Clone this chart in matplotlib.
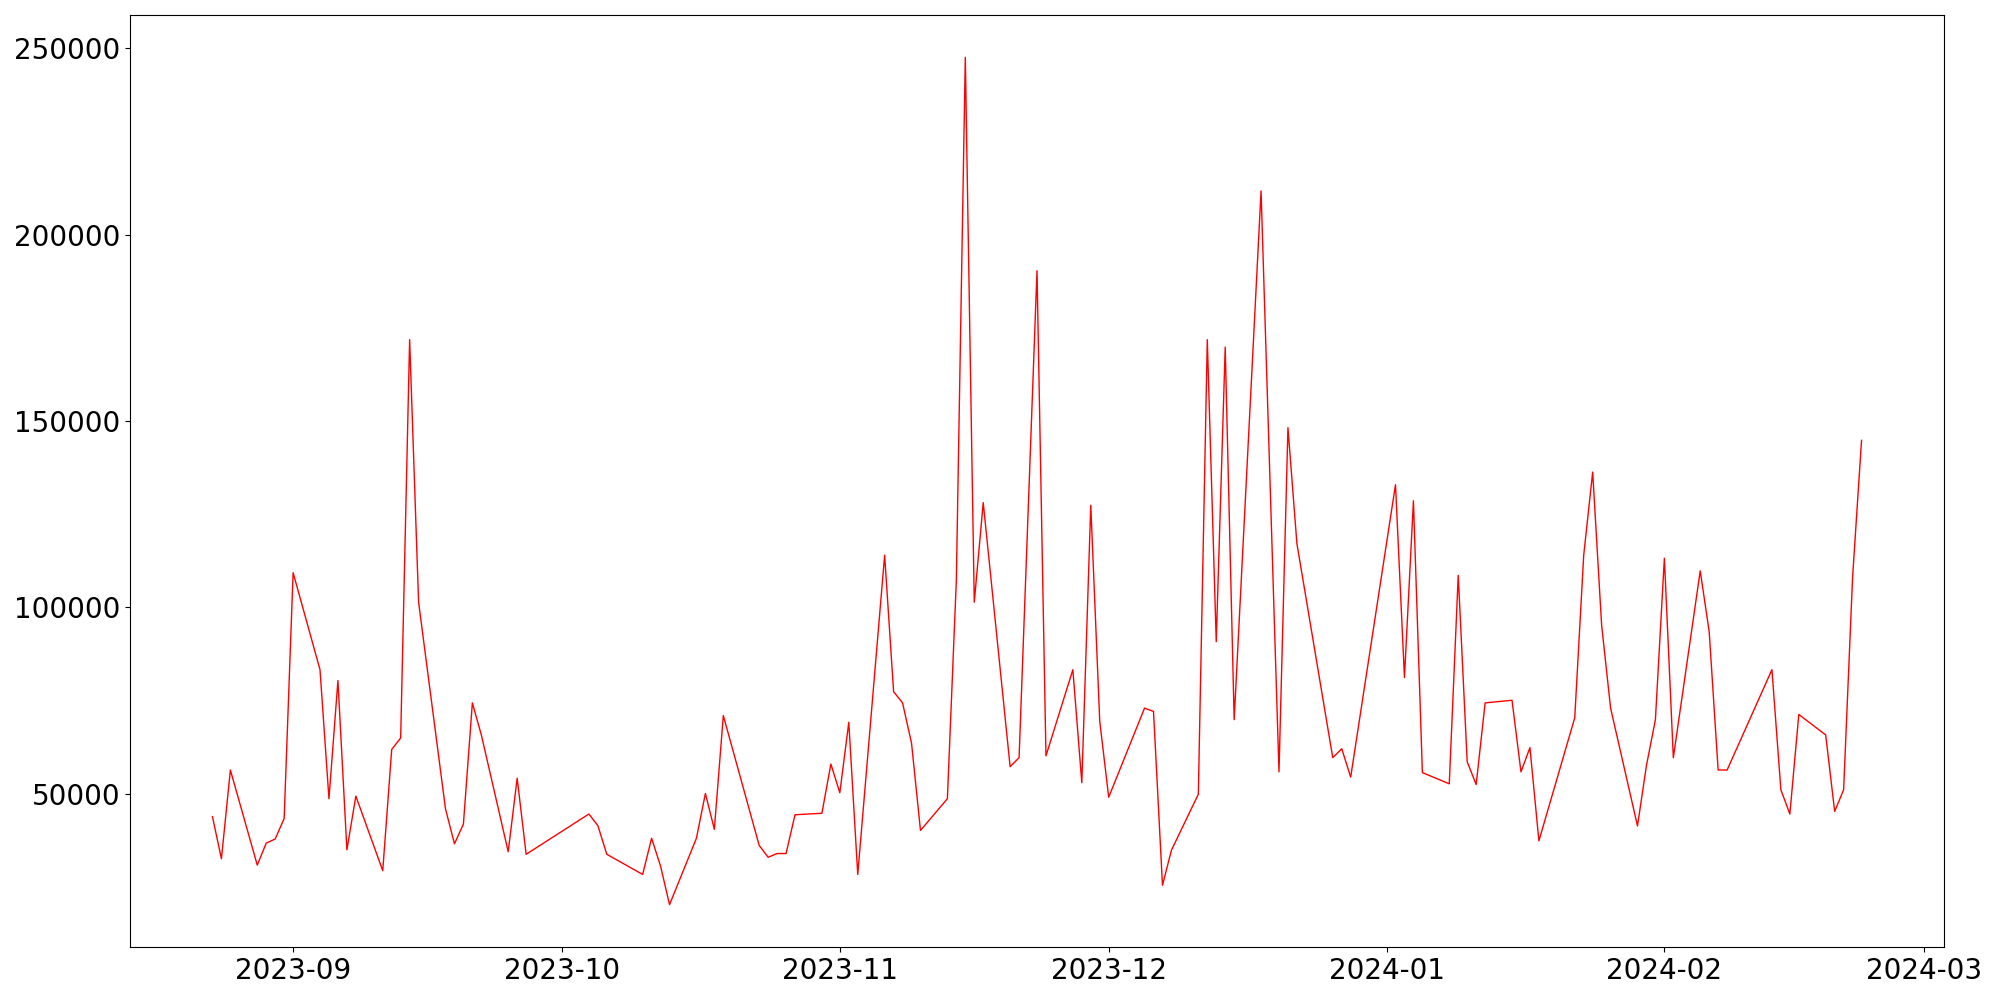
# IMPORTS
import pandas as pd
import matplotlib
matplotlib.use('Agg')
import matplotlib.pyplot as plt

# DATA
dates = [
    '2023-08-23', '2023-08-24', '2023-08-25', '2023-08-28', '2023-08-29', '2023-08-30', '2023-08-31',
    '2023-09-01', '2023-09-04', '2023-09-05', '2023-09-06', '2023-09-07', '2023-09-08',
    '2023-09-11', '2023-09-12', '2023-09-13', '2023-09-14', '2023-09-15',
    '2023-09-18', '2023-09-19', '2023-09-20', '2023-09-21', '2023-09-22',
    '2023-09-25', '2023-09-26', '2023-09-27',
    '2023-10-04', '2023-10-05', '2023-10-06',
    '2023-10-10', '2023-10-11', '2023-10-12', '2023-10-13',
    '2023-10-16', '2023-10-17', '2023-10-18', '2023-10-19',
    '2023-10-23', '2023-10-24', '2023-10-25', '2023-10-26', '2023-10-27',
    '2023-10-30', '2023-10-31', '2023-11-01', '2023-11-02', '2023-11-03',
    '2023-11-06', '2023-11-07', '2023-11-08', '2023-11-09', '2023-11-10',
    '2023-11-13', '2023-11-14', '2023-11-15', '2023-11-16', '2023-11-17',
    '2023-11-20', '2023-11-21', '2023-11-23', '2023-11-24',
    '2023-11-27', '2023-11-28', '2023-11-29', '2023-11-30', '2023-12-01',
    '2023-12-05', '2023-12-06', '2023-12-07', '2023-12-08',
    '2023-12-11', '2023-12-12', '2023-12-13', '2023-12-14', '2023-12-15',
    '2023-12-18', '2023-12-20', '2023-12-21', '2023-12-22',
    '2023-12-26', '2023-12-27', '2023-12-28',
    '2024-01-02', '2024-01-03', '2024-01-04', '2024-01-05',
    '2024-01-08', '2024-01-09', '2024-01-10', '2024-01-11', '2024-01-12',
    '2024-01-15', '2024-01-16', '2024-01-17', '2024-01-18',
    '2024-01-22', '2024-01-23', '2024-01-24', '2024-01-25', '2024-01-26',
    '2024-01-29', '2024-01-30', '2024-01-31', '2024-02-01', '2024-02-02',
    '2024-02-05', '2024-02-06', '2024-02-07', '2024-02-08',
    '2024-02-13', '2024-02-14', '2024-02-15', '2024-02-16',
    '2024-02-19', '2024-02-20', '2024-02-21', '2024-02-22', '2024-02-23',
]

values = [
    43900, 32600, 56400, 30900, 36800, 37900, 43400,
    109300, 83300, 48700, 80400, 35000, 49400,
    29400, 61900, 65000, 171800, 101400,
    46000, 36600, 41900, 74400, 65800,
    34500, 54200, 33800,
    44600, 41500, 33800,
    28400, 38100, 30600, 20300,
    38100, 50100, 40500, 71000,
    36200, 33000, 34000, 34000, 44400,
    44800, 58000, 50300, 69200, 28400,
    114000, 77400, 74400, 63600, 40200,
    48700, 107200, 247500, 101400, 128100,
    57300, 59700, 190300, 60200,
    83300, 53000, 127400, 69500, 49100,
    73000, 72100, 25500, 34900,
    49900, 171800, 90800, 169800, 69900,
    211700, 55900, 148200, 117100,
    59700, 62100, 54500,
    132900, 81200, 128600, 55700,
    52700, 108600, 58600, 52500, 74400,
    75100, 55900, 62400, 37400,
    70400, 114000, 136300, 95200, 73000,
    41400, 57600, 69900, 113200, 59700,
    109800, 93500, 56400, 56400,
    83300, 51100, 44600, 71300,
    65800, 45300, 51100, 108100, 144800,
]

df = pd.DataFrame({'date': pd.to_datetime(dates), 'value': values})

# PLOT
fig, ax = plt.subplots(figsize=(20, 10), dpi=100)
ax.plot(df['date'], df['value'], color='red', linewidth=1)

ax.tick_params(axis='both', labelsize=20)

fig.subplots_adjust(left=0.065, right=0.972, top=0.985, bottom=0.053)
fig.savefig('out.png')
